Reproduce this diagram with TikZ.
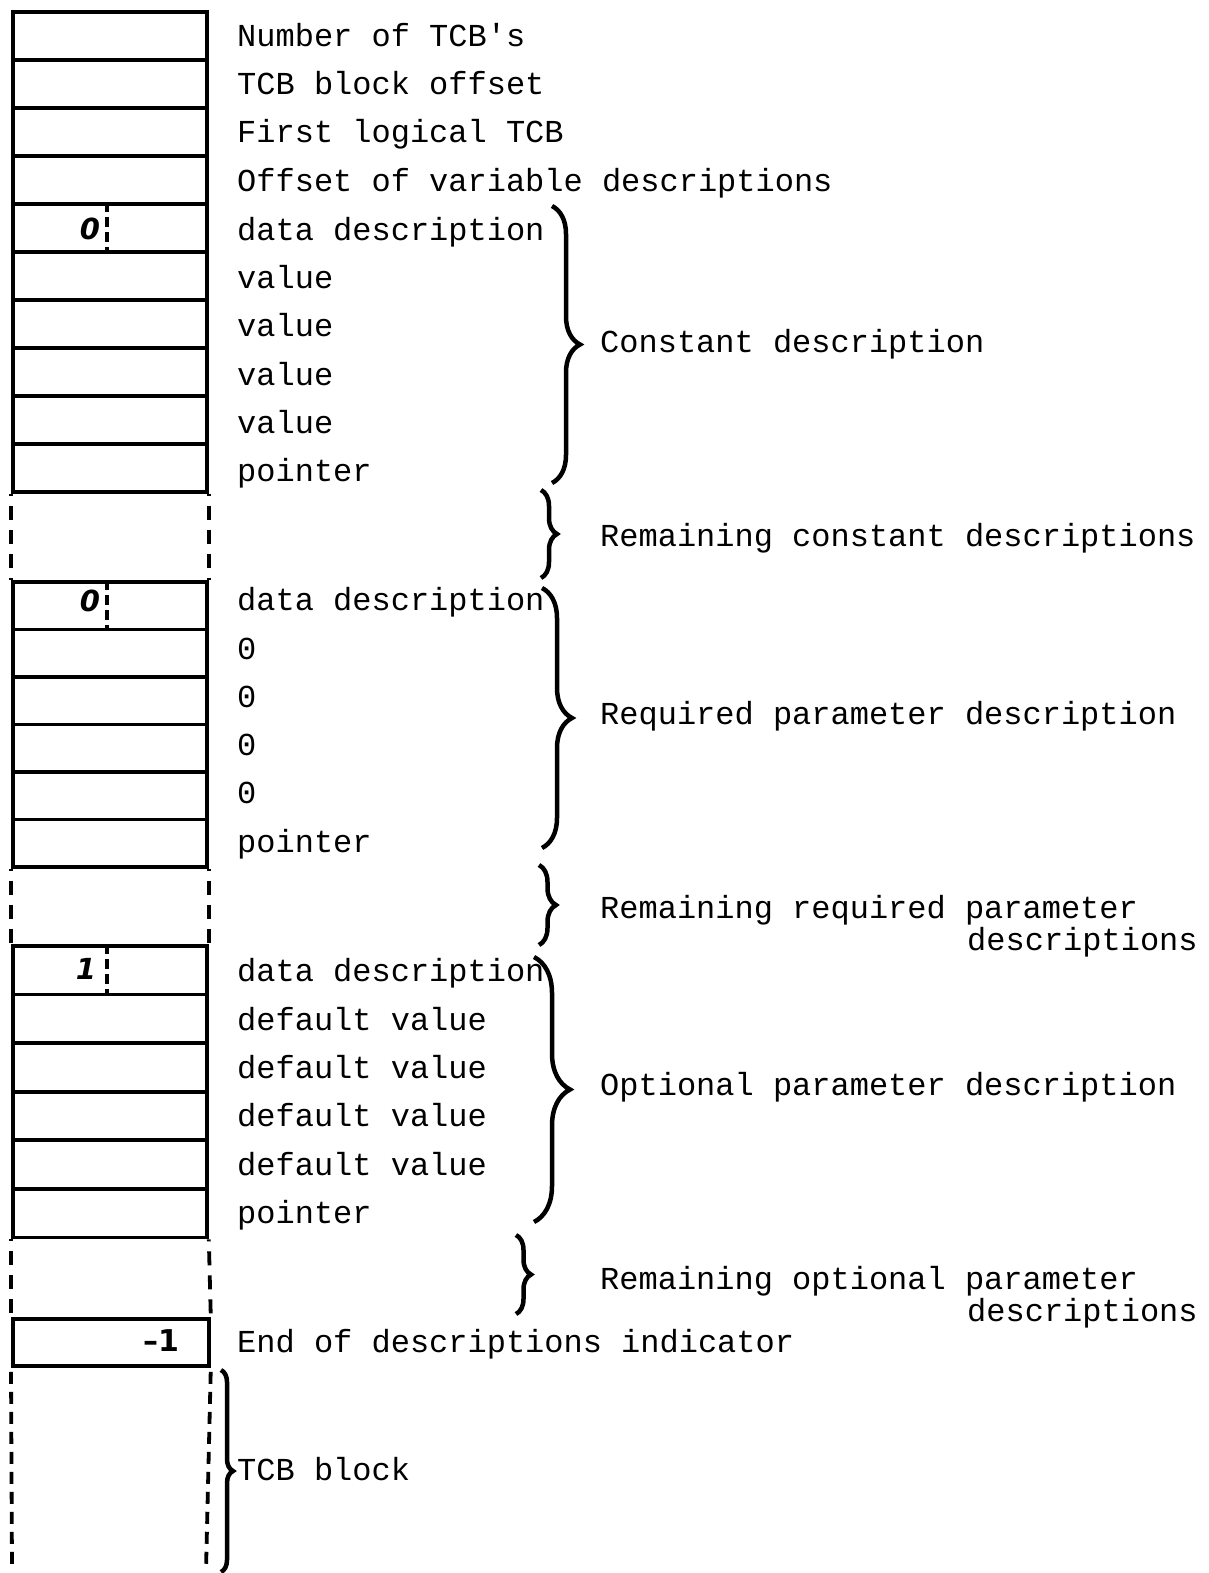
\documentclass[tikz,border=0pt]{standalone}
\usepackage{fontspec}
\newfontfamily\tw{Liberation Mono}
\newfontfamily\handf{DejaVu Sans}
\usetikzlibrary{decorations.pathreplacing,calc}
\begin{document}
\begin{tikzpicture}[x=1pt,y=-1pt,
 cell/.style={draw,line width=3.8pt,minimum width=194pt,minimum height=#1,inner sep=0pt,anchor=north west},
 cell/.default=48pt,
 lbl/.style={anchor=base west,inner sep=0pt,font=\tw\fontsize{32}{38}\selectfont},
 gapline/.style={line width=3.8pt,dash pattern=on 14pt off 10pt,dash phase=-12pt},
 divline/.style={line width=3.4pt,dash pattern=on 10pt off 5pt},
 brc/.style={decorate,decoration={brace,amplitude=#1},line width=4.5pt},
 hand/.style={inner sep=0pt,font=\handf\bfseries\itshape\fontsize{29}{29}\selectfont}]
\useasboundingbox[fill=white] (0,0) rectangle (1208,1573);
% block 1
\foreach \i in {1,...,10} {\node[cell] (a\i) at (11,{10+48*(\i-1)}) {};}
% block 2
\foreach \i in {1,...,6} {\node[cell=47.5pt] (b\i) at (11,{580+47.5*(\i-1)}) {};}
% block 3
\foreach \i in {1,...,6} {\node[cell=48.6pt] (c\i) at (11,{944+48.6*(\i-1)}) {};}
% end box
\node[cell=47pt,minimum width=196pt] (e) at (11,1317) {};
% TCB block ends
\coordinate (tl) at (12,1570);
\coordinate (tr) at (206,1570);
% gap lines
\draw[gapline] (a10.south west) -- (b1.north west);
\draw[gapline] (a10.south east) -- (b1.north east);
\draw[gapline] (b6.south west) -- (c1.north west);
\draw[gapline] (b6.south east) -- (c1.north east);
\draw[gapline] (c6.south west) -- (e.north west);
\draw[gapline] (c6.south east) -- (e.north east);
\draw[gapline,dash pattern=on 12pt off 8pt,dash phase=-4pt] (e.south west) -- (tl);
\draw[gapline,dash pattern=on 12pt off 8pt,dash phase=-4pt] (e.south east) -- (tr);
% dividers and marks
\draw[divline] ($(a5.north west)+(96,0)$) -- ($(a5.south west)+(96,0)$);
\draw[divline] ($(b1.north west)+(96,0)$) -- ($(b1.south west)+(96,0)$);
\draw[divline] ($(c1.north west)+(96,0)$) -- ($(c1.south west)+(96,0)$);
\node[hand] (m1) at (90,229) {0};
\node[hand] (m2) at (90,601) {0};
\node[hand] (m3) at (86,969) {1};
\node[hand,font=\handf\bfseries\fontsize{30}{30}\selectfont] (m4) at (161,1341) {–1};
% left labels
\node[lbl] (t1) at (237,47) {Number of TCB\textquotesingle s};
\node[lbl] (t2) at (237,95) {TCB block offset};
\node[lbl] (t3) at (237,143) {First logical TCB};
\node[lbl] (t4) at (237,192) {Offset of variable descriptions};
\node[lbl] (t5) at (237,240) {data description};
\node[lbl] (t6) at (237,288) {value};
\node[lbl] (t7) at (237,336) {value};
\node[lbl] (t8) at (237,385) {value};
\node[lbl] (t9) at (237,433) {value};
\node[lbl] (t10) at (237,481) {pointer};
\node[lbl] (u1) at (237,610) {data description};
\node[lbl] (u2) at (237,659) {0};
\node[lbl] (u3) at (237,707) {0};
\node[lbl] (u4) at (237,755) {0};
\node[lbl] (u5) at (237,803) {0};
\node[lbl] (u6) at (237,852) {pointer};
\node[lbl] (v1) at (237,981) {data description};
\node[lbl] (v2) at (237,1030) {default value};
\node[lbl] (v3) at (237,1078) {default value};
\node[lbl] (v4) at (237,1126) {default value};
\node[lbl] (v5) at (237,1175) {default value};
\node[lbl] (v6) at (237,1223) {pointer};
\node[lbl] (w1) at (237,1352) {End of descriptions indicator};
\node[lbl] (w2) at (237,1480) {TCB block};
% right labels
\node[lbl] (r1) at (600,352) {Constant description};
\node[lbl] (r2) at (600,546) {Remaining constant descriptions};
\node[lbl] (r3) at (600,724) {Required parameter description};
\node[lbl] (r4) at (600,918) {Remaining required parameter};
\node[lbl] (r4b) at (967,950) {descriptions};
\node[lbl] (r5) at (600,1095) {Optional parameter description};
\node[lbl] (r6) at (600,1289) {Remaining optional parameter};
\node[lbl] (r6b) at (967,1321) {descriptions};
% braces
\draw[brc=28pt] (552,206) -- (552,483);
\draw[brc=16pt] (541,490) -- (541,578);
\draw[brc=30pt] (542,588) -- (542,848);
\draw[brc=17pt] (539,865) -- (539,945);
\draw[brc=36pt] (534,957) -- (534,1222);
\draw[brc=15pt] (516,1235) -- (516,1314);
\draw[brc=12pt] (221,1370) -- (221,1572);
\end{tikzpicture}
\end{document}
